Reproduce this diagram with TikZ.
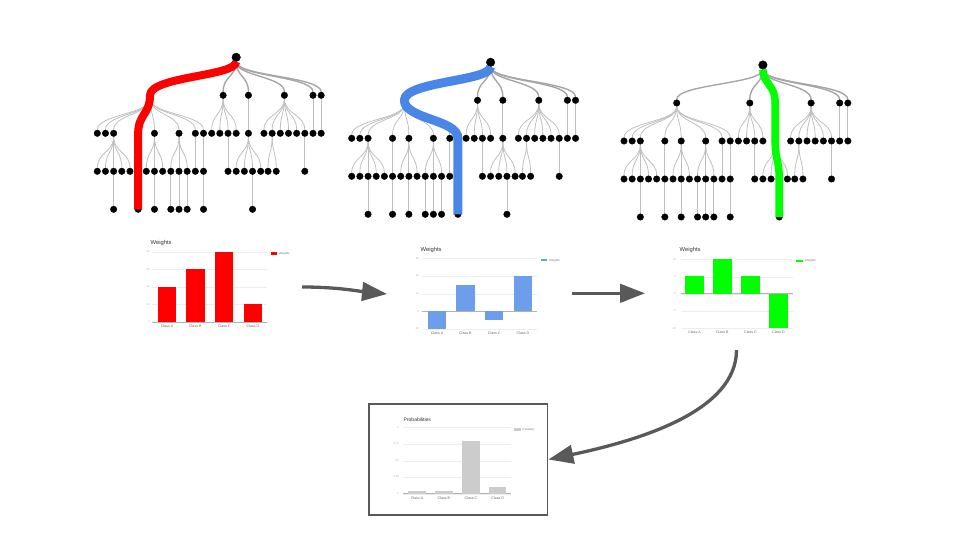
\documentclass[tikz,border=0pt]{standalone}
\usepackage{fontspec}
\setmainfont{Liberation Sans}
\usetikzlibrary{arrows.meta}
\pgfdeclarelayer{background}
\pgfsetlayers{background,main}
\definecolor{hired}{HTML}{FF0000}
\definecolor{hiblue}{HTML}{4A86E8}
\definecolor{barblue}{HTML}{6D9EEB}
\definecolor{higreen}{HTML}{00FF00}
\definecolor{probgray}{HTML}{CCCCCC}
\definecolor{arrowgray}{HTML}{595959}
\tikzstyle{vertex}=[shape=circle, minimum size=6.5pt, fill, draw, inner sep=0]
\tikzstyle{rootvertex}=[vertex, minimum size=8.5pt]
\tikzstyle{branch}=[draw=black!25, line width=0.8pt]
\tikzstyle{trunk}=[draw=black!35, line width=1.4pt]
\tikzstyle{route}=[line width=8pt, line join=round]
\tikzstyle{flow}=[draw=arrowgray, line width=3.3pt, -{Triangle[length=25pt,width=18.5pt]}]
\tikzstyle{gridline}=[draw=black!7, line width=0.4pt]
\tikzstyle{axisline}=[draw=black!30, line width=0.5pt]
\tikzstyle{charttitle}=[font=\fontsize{5.8}{6}\selectfont, text=black!80, anchor=west, inner sep=0]
\tikzstyle{ticklabel}=[font=\fontsize{2.6}{3}\selectfont, text=black!35, anchor=east, inner sep=0]
\tikzstyle{classlabel}=[font=\fontsize{3.6}{4}\selectfont, text=black!60, inner sep=0]
\tikzstyle{legendlabel}=[font=\fontsize{2.9}{3}\selectfont, text=black!55, anchor=west, inner sep=0]
\tikzstyle{chartframe}=[draw=arrowgray, line width=1.5pt, minimum width=178.7pt, minimum height=111pt, inner sep=0]

% one decision tree: #1 name, #2 x of first slot, #3 y of level 2
\newcommand{\choicetree}[3]{%
\begin{scope}[shift={(#2,#3)}, x=8.17pt]
\node[rootvertex] (#1-0) at (17,-76) {};
\foreach \i/\s in {1/6.45,2/15.4,3/18.5,4/22.9,5/26.4,6/27.4}{
  \node[vertex] (#1-1-\i) at (\s,-38) {};
  \begin{pgfonlayer}{background}
  \draw[trunk] (#1-0) .. controls +(0,19) and +(0,-19) .. (#1-1-\i);
  \end{pgfonlayer}}
\foreach \i/\s/\p in {1/0/1,2/1/1,3/2/1,4/5/1,5/7/1,6/10/1,7/12/1,8/13/1,9/14/2,10/15/2,11/16/2,12/17/2,13/18.5/3,14/20.4/4,15/21.4/4,16/22.4/4,17/23.4/4,18/24.4/4,19/25.4/4,20/26.4/5,21/27.4/6}{
  \node[vertex] (#1-2-\i) at (\s,0) {};
  \begin{pgfonlayer}{background}
  \draw[branch] (#1-1-\p) .. controls +(0,19) and +(0,-19) .. (#1-2-\i);
  \end{pgfonlayer}}
\foreach \i/\s/\p in {1/0/3,2/1/3,3/2/3,4/3/3,5/4/3,6/5/4,7/6/5,8/7/5,9/8/5,10/9/6,11/10/6,12/11/6,13/12/7,14/13/8,15/16/11,16/17/13,17/18/13,18/19/13,19/20/13,20/20.9/15,21/21.9/15,22/25.4/19}{
  \node[vertex] (#1-3-\i) at (\s,38) {};
  \begin{pgfonlayer}{background}
  \draw[branch] (#1-2-\p) .. controls +(0,19) and +(0,-19) .. (#1-3-\i);
  \end{pgfonlayer}}
\foreach \i/\s/\p in {1/2/3,2/5/6,3/7/8,4/9/10,5/10/11,6/11/12,7/13/14,8/19/18}{
  \node[vertex] (#1-4-\i) at (\s,76) {};
  \begin{pgfonlayer}{background}
  \draw[branch] (#1-3-\p) .. controls +(0,19) and +(0,-19) .. (#1-4-\i);
  \end{pgfonlayer}}
\end{scope}}

\begin{document}
\begin{tikzpicture}[x=1pt, y=-1pt]
\useasboundingbox (0,0) rectangle (960,540);

% trees
\choicetree{t1}{97.3}{133.3}
\choicetree{t2}{351.7}{138.3}
\choicetree{t3}{624}{141}

% chosen paths
\draw[route, hired] (t1-0) .. controls +(0,19) and +(0,-19) .. (t1-1-1.center) .. controls +(0,19) and +(0,-19) .. (t1-2-4.center) -- (t1-3-6.center) -- (t1-4-2.center);
\draw[route, hiblue, line width=9pt] (t2-0) .. controls +(0,19) and +(0,-19) .. (t2-1-1.center) .. controls +(0,19) and +(0,-19) .. (t2-2-8.center) -- (t2-3-14.center) -- (t2-4-7.center);
\draw[route, higreen, line width=7.5pt] (t3-0) .. controls +(0,19) and +(0,-19) .. (t3-1-3.center) -- (t3-2-13.center) .. controls +(0,19) and +(0,-19) .. (t3-3-18.center) -- (t3-4-8.center);

% weights 1
\node[charttitle] (w1-title) at (150.5,243.3) {Weights};
\foreach \y/\t [count=\k] in {251.7/40,269.3/30,287/20,304.3/10,322/0}{
  \draw[gridline] (151.7,\y) -- (267.3,\y);
  \node[ticklabel] (w1-tick-\k) at (150,\y) {\t};}
\draw[axisline] (151.7,322) -- (267.3,322);
\foreach \bx/\v/\cls [count=\k] in {167/287/A,195.3/269.3/B,224.2/251.7/C,253/304.3/D}{
  \fill[hired] (\bx-9.2,322) rectangle (\bx+9.2,\v);
  \node[classlabel] (w1-class-\k) at (\bx,326.7) {Class \cls};}
\fill[hired] (270.7,252.3) rectangle (277.3,254.7);
\node[legendlabel] (w1-legend) at (279,253.5) {Weights};

% weights 2
\node[charttitle] (w2-title) at (420.5,250) {Weights};
\foreach \y/\t [count=\k] in {258.3/30,276/20,293.7/10,311.3/0,329/-10}{
  \draw[gridline] (421.7,\y) -- (537.3,\y);
  \node[ticklabel] (w2-tick-\k) at (419,\y) {\t};}
\draw[axisline] (421.7,311.3) -- (537.3,311.3);
\foreach \bx/\v/\cls [count=\k] in {437/329/A,465.3/284.8/B,494.2/320.2/C,523/276/D}{
  \fill[barblue] (\bx-9.2,311.3) rectangle (\bx+9.2,\v);
  \node[classlabel] (w2-class-\k) at (\bx,333.3) {Class \cls};}
\fill[barblue] (541,259.3) rectangle (547.3,261.3);
\node[legendlabel] (w2-legend) at (549,260.3) {Weights};

% weights 3
\node[charttitle] (w3-title) at (679.5,250) {Weights};
\foreach \y/\t [count=\k] in {259.3/10,276.7/5,293.7/0,311/-5,328.3/-10}{
  \draw[gridline] (680.7,\y) -- (792.7,\y);
  \node[ticklabel] (w3-tick-\k) at (676,\y) {\t};}
\draw[axisline] (680.7,293.7) -- (792.7,293.7);
\foreach \bx/\v/\cls [count=\k] in {694.5/276.4/A,722.3/259.2/B,750.5/276.4/C,778.5/328.2/D}{
  \fill[higreen] (\bx-9.2,293.7) rectangle (\bx+9.2,\v);
  \node[classlabel] (w3-class-\k) at (\bx,332.3) {Class \cls};}
\fill[higreen] (796,260) rectangle (802.7,262);
\node[legendlabel] (w3-legend) at (805,261) {Weights};

% probabilities
\node[chartframe] (probframe) at (458.3,459.5) {};
\node[charttitle, font=\fontsize{5}{5}\selectfont] (p-title) at (403.5,419.3) {Probabilities};
\foreach \y/\t [count=\k] in {427.3/1,444/0.75,460.7/0.5,477/0.25,493.7/0}{
  \draw[gridline] (403.3,\y) -- (510.7,\y);
  \node[ticklabel] (p-tick-\k) at (399,\y) {\t};}
\draw[axisline] (403.3,493.7) -- (510.7,493.7);
\foreach \bx/\v/\cls [count=\k] in {417/490.7/A,443.8/490.7/B,471/441/C,497.7/487.3/D}{
  \fill[probgray] (\bx-8.7,493.7) rectangle (\bx+8.7,\v);
  \node[classlabel] (p-class-\k) at (\bx,498) {Class \cls};}
\fill[probgray] (514.3,428.2) rectangle (520.7,430.8);
\node[legendlabel, font=\fontsize{2.6}{3}\selectfont] (p-legend) at (522,429.5) {Probability};

% arrows
\coordinate (w1-out) at (302,287);
\coordinate (w2-in) at (387,294);
\coordinate (w2-out) at (572,293.3);
\coordinate (w3-in) at (645,293.3);
\coordinate (w3-out) at (736.5,350);
\draw[flow] (w1-out) .. controls +(35,0) and +(-30,-3) .. (w2-in);
\draw[flow] (w2-out) -- (w3-in);
\draw[flow] (w3-out) .. controls +(0,60) and +(95,-20) .. (probframe.east);
\end{tikzpicture}
\end{document}
